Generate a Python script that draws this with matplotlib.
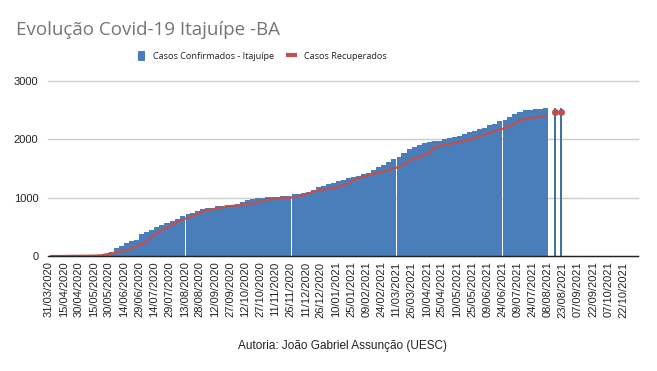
import matplotlib
matplotlib.use("Agg")
import matplotlib.pyplot as plt
import matplotlib.dates as mdates
from matplotlib.patches import Patch
from matplotlib.lines import Line2D
import pandas as pd

# ---------------- data ----------------
start_date = "2020-03-31"          # first reading, readings every 5 days
confirmed = [3, 4, 5, 6, 7, 8, 9, 10, 10, 15,
             20, 40, 75, 130, 180, 230, 262, 275, 370, 405,
             450, 495, 530, 565, 595, 635, 690, 715, 745, 770,
             800, 815, 830, 850, 860, 870, 880, 890, 920, 960,
             980, 990, 1000, 1005, 1010, 1020, 1025, 1030, 1055, 1065,
             1080, 1100, 1140, 1180, 1200, 1240, 1250, 1280, 1300, 1330,
             1355, 1380, 1405, 1430, 1470, 1520, 1560, 1610, 1660, 1700,
             1760, 1830, 1870, 1905, 1930, 1950, 1965, 1980, 2000, 2015,
             2040, 2065, 2090, 2120, 2150, 2180, 2200, 2240, 2270, 2320,
             2330, 2380, 2440, 2475, 2500, 2510, 2520, 2525, 2535]
recovered = [0, 0, 0, 1, 2, 3, 4, 5, 6, 8,
             12, 30, 45, 60, 80, 95, 135, 170, 200, 250,
             330, 395, 440, 490, 535, 580, 625, 650, 680, 720,
             760, 785, 800, 815, 835, 850, 860, 865, 880, 890,
             900, 930, 955, 965, 980, 990, 1000, 1000, 1005, 1020,
             1045, 1070, 1100, 1125, 1140, 1155, 1160, 1195, 1215, 1245,
             1300, 1335, 1365, 1385, 1410, 1430, 1450, 1475, 1500, 1530,
             1570, 1640, 1670, 1700, 1730, 1760, 1870, 1885, 1900, 1915,
             1940, 1960, 1975, 1995, 2025, 2050, 2080, 2110, 2140, 2170,
             2190, 2230, 2270, 2325, 2345, 2360, 2375, 2390, 2400]
missing_dates = ["2020-08-13", "2020-11-26", "2021-03-11", "2021-06-24"]
late_dates = ["2021-08-15", "2021-08-21"]
late_confirmed = [2540, 2540]
late_recovered = [2475, 2475]
tick_start, tick_end = "2020-03-31", "2021-10-22"
yticks = [0, 1000, 2000, 3000]

title = "Evolução Covid-19 Itajuípe -BA"
series_names = ["Casos Confirmados - Itajuípe", "Casos Recuperados"]
footer = "Autoria: João Gabriel Assunção (UESC)"

BLUE = "#4a7ebb"
RED = "#c0504d"

# ---------------- figure ----------------
fig = plt.figure(figsize=(6.57, 3.71), dpi=100)
ax = fig.add_axes([48 / 657, 1 - 256 / 371, (638 - 48) / 657, (256 - 81) / 371])

dates = pd.date_range(start_date, periods=len(confirmed), freq="5D")
gaps = set(pd.to_datetime(missing_dates))
lefts, widths = [], []
for d in dates:
    if d in gaps:
        lefts.append(mdates.date2num(d) + 1)
        widths.append(4)
    else:
        lefts.append(mdates.date2num(d))
        widths.append(5)

ax.bar(lefts, confirmed, width=widths, align="edge", color=BLUE,
       linewidth=0, antialiased=False, zorder=2)
ax.plot(mdates.date2num(dates) + 2.5, recovered, color=RED, lw=1.6,
        solid_joinstyle="round", zorder=3)

late_x = mdates.date2num(pd.to_datetime(late_dates))
ax.bar(late_x, late_confirmed, width=1.4, align="center", color="#3f73a8",
       linewidth=0, zorder=2)
ax.plot(late_x, late_recovered, "o", color=RED, ms=4, ls="none", zorder=3)

x0 = mdates.date2num(pd.Timestamp(start_date))
ax.set_xlim(x0 - 0.5, x0 + 584.5)
ax.set_ylim(0, 3000)

tick_dates = pd.date_range(tick_start, tick_end, freq="15D")
ax.set_xticks(mdates.date2num(tick_dates))
ax.set_xticklabels([t.strftime("%d/%m/%Y") for t in tick_dates],
                   rotation=90, fontsize=8, family="Liberation Sans", color="#222222")
ax.set_yticks(yticks)
ax.set_yticklabels([str(v) for v in yticks], fontsize=8,
                   family="Liberation Sans", color="#222222")
ax.tick_params(axis="both", length=0)
ax.tick_params(axis="x", pad=4)
ax.tick_params(axis="y", pad=7)

for s in ("top", "right", "left"):
    ax.spines[s].set_visible(False)
ax.spines["bottom"].set_color("#222222")
ax.spines["bottom"].set_linewidth(1)
ax.spines["bottom"].set_zorder(4)
ax.yaxis.grid(True, color="#cccccc", lw=1)
ax.set_axisbelow(True)
for gl in ax.get_ygridlines():
    gl.set_clip_on(False)

fig.text(16 / 657, 1 - 30 / 371, title, fontsize=13.5, color="#757575",
         va="center", ha="left", family="Open Sans")

handles = [Patch(facecolor=BLUE, edgecolor="none"),
           Line2D([0], [0], color=RED, lw=3)]
fig.legend(handles, series_names, loc="center",
           bbox_to_anchor=(262 / 657, 1 - 56 / 371), ncol=2, frameon=False,
           prop={"family": "Open Sans", "size": 6.6}, labelcolor="#222222",
           handlelength=0.8, handleheight=1.3, columnspacing=1.5, handletextpad=0.9)

fig.text(343 / 657, 1 - 346 / 371, footer, fontsize=8.5, color="#222222",
         ha="center", va="center", family="Liberation Sans")

fig.savefig("out.png", dpi=100, facecolor="white")
